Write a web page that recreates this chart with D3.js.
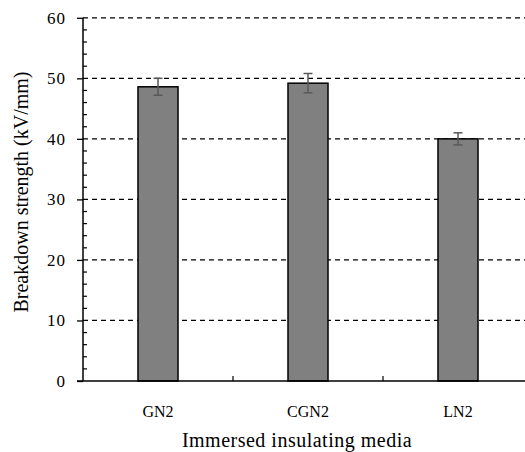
<!DOCTYPE html>
<html>
<head>
<meta charset="utf-8">
<script src="https://cdn.jsdelivr.net/npm/d3@7/dist/d3.min.js"></script>
<style>
  html, body { margin: 0; padding: 0; background: #fff; }
  svg { display: block; }
</style>
</head>
<body>
<svg id="chart" width="525" height="452"></svg>
<script>
// Breakdown strength by immersed insulating medium
const media = ["GN2", "CGN2", "LN2"];
const strength = [48.6, 49.2, 40.0];
const errorHalf = [1.4, 1.6, 1.0];
const yTicks = [0, 10, 20, 30, 40, 50, 60];

const FONT = "'Liberation Serif', Tinos, 'Times New Roman', Times, 'DejaVu Serif', serif";

const svg = d3.select("#chart");
const margin = { left: 83, top: 17.8, bottom: 381 };
const plotRight = 533;

const x = d3.scaleBand().domain(media).range([margin.left, plotRight]).paddingInner(0).paddingOuter(0);
const y = d3.scaleLinear().domain([0, 60]).range([margin.bottom, margin.top]);

// dashed gridlines
svg.append("g")
  .selectAll("line")
  .data(yTicks.filter(d => d > 0))
  .join("line")
  .attr("x1", margin.left).attr("x2", plotRight)
  .attr("y1", d => y(d)).attr("y2", d => y(d))
  .attr("stroke", "#000").attr("stroke-width", 1.2)
  .attr("stroke-dasharray", "5,4");

// bars
const barW = 40;
svg.append("g")
  .selectAll("rect")
  .data(media)
  .join("rect")
  .attr("x", d => x(d) + x.bandwidth() / 2 - barW / 2)
  .attr("y", (d, i) => y(strength[i]))
  .attr("width", barW)
  .attr("height", (d, i) => y(0) - y(strength[i]))
  .attr("fill", "#808080")
  .attr("stroke", "#000")
  .attr("stroke-width", 1.5);

// error bars
const eb = svg.append("g").attr("stroke", "#595959").attr("stroke-width", 1.5);
media.forEach((m, i) => {
  const cx = x(m) + x.bandwidth() / 2;
  const hi = y(strength[i] + errorHalf[i]);
  const lo = y(strength[i] - errorHalf[i]);
  eb.append("line").attr("x1", cx).attr("x2", cx).attr("y1", hi).attr("y2", lo);
  eb.append("line").attr("x1", cx - 4.5).attr("x2", cx + 4.5).attr("y1", hi).attr("y2", hi);
  eb.append("line").attr("x1", cx - 4.5).attr("x2", cx + 4.5).attr("y1", lo).attr("y2", lo);
});

// y axis: major ticks outside, minor ticks inside
const yAxis = svg.append("g").attr("transform", `translate(${margin.left},0)`)
  .call(d3.axisLeft(y).tickValues(yTicks).tickSize(6).tickPadding(11).tickFormat(d3.format("d")));
yAxis.attr("font-family", null).attr("font-size", null);
yAxis.select(".domain").attr("stroke-width", 1.5).attr("d", `M0,${margin.bottom}V${margin.top}`);
yAxis.selectAll(".tick line").attr("stroke-width", 1.3);
yAxis.selectAll(".tick text")
  .style("font-family", FONT)
  .style("font-size", "17px")
  .style("letter-spacing", "1px");
const minor = d3.range(0, 61, 2).filter(v => v % 10 !== 0);
yAxis.append("g").selectAll("line").data(minor).join("line")
  .attr("x1", 0).attr("x2", 4)
  .attr("y1", d => y(d)).attr("y2", d => y(d))
  .attr("stroke", "#000").attr("stroke-width", 1.2);

// x axis baseline with category boundary ticks pointing up
const xg = svg.append("g");
xg.append("line")
  .attr("x1", margin.left - 6).attr("x2", plotRight)
  .attr("y1", y(0)).attr("y2", y(0))
  .attr("stroke", "#000").attr("stroke-width", 1.5);
xg.selectAll("line.bound").data(media.slice(1)).join("line").attr("class", "bound")
  .attr("x1", d => x(d)).attr("x2", d => x(d))
  .attr("y1", y(0)).attr("y2", y(0) - 5)
  .attr("stroke", "#000").attr("stroke-width", 1.2);
xg.selectAll("text").data(media).join("text")
  .attr("x", d => x(d) + x.bandwidth() / 2)
  .attr("y", y(0) + 35.5)
  .attr("text-anchor", "middle")
  .style("font-family", FONT)
  .style("font-size", "16px")
  .text(d => d);

// axis titles
svg.append("text")
  .attr("x", 297).attr("y", 447)
  .attr("text-anchor", "middle")
  .style("font-family", FONT)
  .style("font-size", "20px")
  .style("letter-spacing", "0.5px")
  .text("Immersed insulating media");

svg.append("text")
  .attr("transform", "translate(28,192) rotate(-90)")
  .attr("text-anchor", "middle")
  .style("font-family", FONT)
  .style("font-size", "20px")
  .text("Breakdown strength (kV/mm)");
</script>
</body>
</html>
